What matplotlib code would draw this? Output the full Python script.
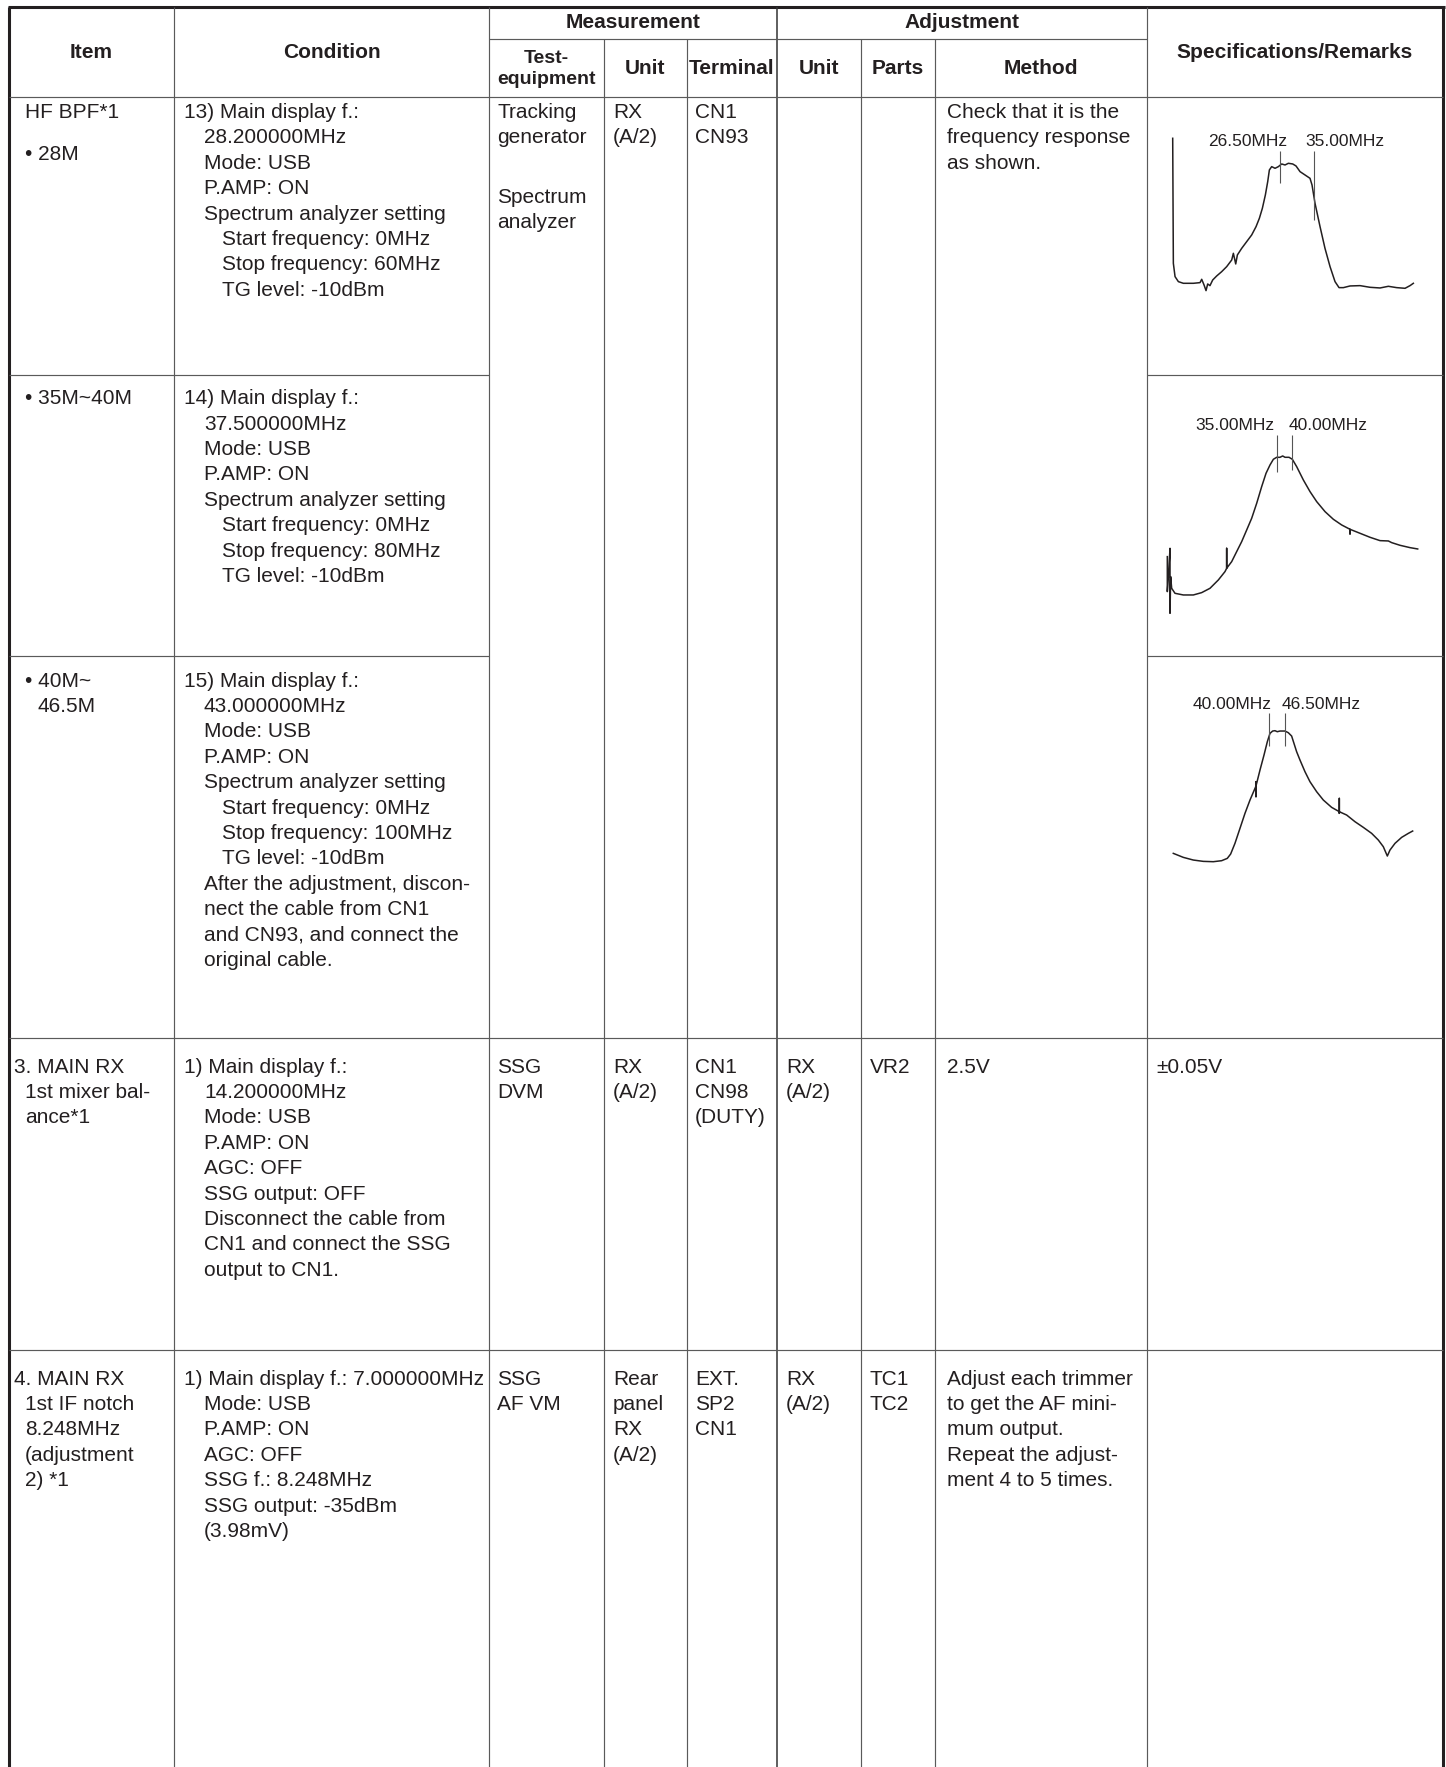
import matplotlib
matplotlib.use("Agg")
import matplotlib.pyplot as plt

plt.rcParams['font.family'] = ['Liberation Sans', 'DejaVu Sans']

W, H, DPI = 1446, 1767, 100
INK = '#231f20'
GRID = '#5a5a5a'

# ---------------------------------------------------------------- table text
group_headers = ["Measurement", "Adjustment"]
column_headers = ["Item", "Condition", "Test-\nequipment", "Unit", "Terminal",
                  "Unit", "Parts", "Method", "Specifications/Remarks"]

# rows: 13) 28M, 14) 35M~40M, 15) 40M~46.5M, 3. MAIN RX, 4. MAIN RX
item_col = [
    ["  HF BPF*1", "", "  \u2022 28M"],
    ["  \u2022 35M~40M"],
    ["  \u2022 40M~", "    46.5M"],
    ["3. MAIN RX", "  1st mixer bal-", "  ance*1"],
    ["4. MAIN RX", "  1st IF notch", "  8.248MHz", "  (adjustment", "  2) *1"],
]
condition_col = [
    ["13) Main display f.:", "  28.200000MHz", "  Mode: USB", "  P.AMP: ON",
     "  Spectrum analyzer setting", "    Start frequency: 0MHz",
     "    Stop frequency: 60MHz", "    TG level: -10dBm"],
    ["14) Main display f.:", "  37.500000MHz", "  Mode: USB", "  P.AMP: ON",
     "  Spectrum analyzer setting", "    Start frequency: 0MHz",
     "    Stop frequency: 80MHz", "    TG level: -10dBm"],
    ["15) Main display f.:", "  43.000000MHz", "  Mode: USB", "  P.AMP: ON",
     "  Spectrum analyzer setting", "    Start frequency: 0MHz",
     "    Stop frequency: 100MHz", "    TG level: -10dBm",
     "  After the adjustment, discon-", "  nect the cable from CN1",
     "  and CN93, and connect the", "  original cable."],
    ["1) Main display f.:", "  14.200000MHz", "  Mode: USB", "  P.AMP: ON",
     "  AGC: OFF", "  SSG output: OFF", "  Disconnect the cable from",
     "  CN1 and connect the SSG", "  output to CN1."],
    ["1) Main display f.: 7.000000MHz", "  Mode: USB", "  P.AMP: ON", "  AGC: OFF",
     "  SSG f.: 8.248MHz", "  SSG output: -35dBm", "  (3.98mV)"],
]
# columns shared by rows 13-15 (one block), row 3, row 4
test_equipment = [["Tracking", "generator", "", "Spectrum", "analyzer"],
                  ["SSG", "DVM"], ["SSG", "AF VM"]]
meas_unit = [["RX", "(A/2)"], ["RX", "(A/2)"], ["Rear", "panel", "RX", "(A/2)"]]
terminal = [["CN1", "CN93"], ["CN1", "CN98", "(DUTY)"], ["EXT.", "SP2", "CN1"]]
adj_unit = [[], ["RX", "(A/2)"], ["RX", "(A/2)"]]
parts = [[], ["VR2"], ["TC1", "TC2"]]
method = [["Check that it is the", "frequency response", "as shown."],
          ["2.5V"],
          ["Adjust each trimmer", "to get the AF mini-", "mum output.",
           "Repeat the adjust-", "ment 4 to 5 times."]]
spec_text = [[], ["\u00b10.05V"], []]

# ---------------------------------------------------------------- curves (MHz, dB)
c1_freq = [0.0, 0.16, 0.58, 1.4, 2.63, 5.1, 6.75, 7.16, 7.74, 8.23, 8.64, 9.2, 9.88,
           10.86, 12.1, 13.33, 14.57, 14.98, 15.56, 15.97, 17.04, 18.27, 19.5, 20.58,
           21.4, 22.14, 22.88, 23.46, 23.87, 24.44, 25.27, 26.09, 26.9, 27.74, 28.56,
           29.63, 30.45, 31.44, 32.67, 33.9, 34.4, 35.14, 36.38, 37.6, 38.85, 40.08,
           41.07, 42.14, 43.79, 46.26, 48.72, 51.2, 53.25, 55.3, 57.37, 58.6, 59.42]
c1_level = [15, -60, -68, -71, -72, -72, -71.6, -69.6, -73, -76.4, -72.4, -73.4, -70,
            -67.6, -65, -62, -58, -54, -60.4, -55, -51, -47, -43, -38,
            -33, -27, -19, -11, -4, -2, -3, -2, -0.4, -1, 0,
            -0.4, -1.6, -5, -7, -9, -13, -24, -38, -51, -62, -71,
            -74.6, -74.6, -73.6, -73.4, -74.4, -74.8, -73.8, -74.6, -75, -73.4, -72]
c1_markers = [26.5, 35.0]
c1_marker_top = [7.6, 7.6]
c1_marker_bottom = [-11.6, -34.0]
c1_labels = ["26.50MHz", "35.00MHz"]
c1_label_freq = [18.4, 42.6]

c2_freq = [0.1, 0.1, 0.5, 0.96, 0.96, 1.17, 1.49, 2.55, 5.21, 8.4, 11.06, 13.72, 16.38,
           18.5, 19.04, 19.04, 19.04, 20.64, 22.23, 23.83, 25.43, 27.02, 28.62, 30.21,
           31.6, 32.87, 33.94, 35.0, 36.06, 36.91, 37.66, 38.94, 40.0, 41.38, 43.51,
           45.64, 47.77, 50.43, 53.09, 55.74, 58.4, 58.4, 58.4, 61.6, 64.79, 67.98,
           70.64, 71.7, 74.36, 77.55, 80.0]
c2_level = [-59.6, -80.6, -70, -54.6, -93.6, -71.6, -78.6, -81.6, -82.6, -82.6, -81.2,
            -78.6, -73.6, -68.6, -66.6, -54.6, -66.6, -62.6, -56.6, -50.6, -43.6, -36.6,
            -27.6, -17.6, -9.6, -4.6, -1.2, 0, 0, 0.8, 0, 0, -1.2, -5.6, -13.6,
            -20.6, -26.6, -32.6, -37.2, -40.6, -43.2, -46, -43.2, -45.6, -48, -50,
            -50.2, -51.2, -52.8, -54.2, -55]
c2_markers = [35.0, 40.0]
c2_marker_top = [13.4, 13.4]
c2_marker_bottom = [-8.6, -7.6]
c2_labels = ["35.00MHz", "40.00MHz"]
c2_label_freq = [21.7, 51.5]

c3_freq = [1.14, 5.2, 9.26, 13.32, 17.39, 20.77, 23.07, 24.43, 26.18, 28.22, 30.25,
           32.29, 34.32, 34.72, 34.72, 34.72, 34.72, 36.35, 37.98, 39.33, 40.41, 41.49,
           42.43, 43.38, 44.46, 46.49, 47.85, 49.2, 50.15, 51.23, 52.59, 54.62, 56.65,
           59.36, 62.07, 65.45, 68.57, 68.57, 68.57, 68.57, 71.55, 74.93, 78.32, 81.7,
           84.41, 86.44, 88.07, 89.15, 91.18, 93.89, 96.6, 98.36]
c3_level = [-73.6, -76, -77.6, -78.4, -78.6, -78, -76.6, -74, -67.6, -58.6, -49.6,
            -41.6, -34.6, -33.2, -30.6, -39.6, -33.2, -23.6, -14.6, -6.6, -1.6, -0.2,
            0, -0.6, -0.2, -0.2, -1.2, -3.2, -7.6, -12.6, -17.6, -24.6, -30.6,
            -36.6, -41.6, -46, -48.6, -40.6, -49.6, -48.6, -50.6, -54.6, -58, -61.6,
            -65.6, -69.6, -75.2, -71.6, -67.6, -64, -61.6, -60.2]
c3_markers = [40.0, 46.5]
c3_marker_top = [10.4, 10.4]
c3_marker_bottom = [-9.2, -9.0]
c3_labels = ["40.00MHz", "46.50MHz"]
c3_label_freq = [25.2, 61.4]

# ---------------------------------------------------------------- layout (pixels)
X_LEFT, X_RIGHT = 9, 1443
COLS = [9, 174, 489, 604, 687, 777, 861, 935, 1147, 1443]
Y_TOP, Y_GROUP, Y_HEAD = 7, 39, 97
ROW_LINES_PARTIAL = [375, 656]
ROW_LINES_FULL = [1038, 1350]
ROW_FIRST = [110.5, 396.7, 679, 1065, 1377]
LS = 25.4
FS = 15
BASE = 7.5

fig = plt.figure(figsize=(W / DPI, H / DPI), dpi=DPI)
ax = fig.add_axes([0, 0, 1, 1])
ax.set_xlim(0, W)
ax.set_ylim(H, 0)
ax.axis('off')


def hline(y, x0, x1, lw=0.85, color=GRID):
    ax.plot([x0, x1], [y, y], color=color, lw=lw, solid_capstyle='butt')


def vline(x, y0, y1, lw=0.85, color=GRID):
    ax.plot([x, x], [y0, y1], color=color, lw=lw, solid_capstyle='butt')


# grid
hline(Y_TOP, X_LEFT - 1.5, X_RIGHT + 1.5, lw=2.2, color=INK)
vline(X_LEFT, Y_TOP, H, lw=2.2, color=INK)
vline(X_RIGHT, Y_TOP, H, lw=2.2, color=INK)
for x in (COLS[1], COLS[2], COLS[8]):
    vline(x, Y_TOP, H)
vline(COLS[5], Y_TOP, H, lw=1.1, color='#333333')
for x in (COLS[3], COLS[4], COLS[6], COLS[7]):
    vline(x, Y_GROUP, H)
hline(Y_GROUP, COLS[2], COLS[8])
hline(Y_HEAD, X_LEFT, X_RIGHT)
for y in ROW_LINES_PARTIAL:
    hline(y, X_LEFT, COLS[2])
    hline(y, COLS[8], X_RIGHT)
for y in ROW_LINES_FULL:
    hline(y, X_LEFT, X_RIGHT)

# header text
hkw = dict(fontsize=FS, fontweight='bold', color=INK, ha='center', va='center')
ax.text((COLS[2] + COLS[5]) / 2, 23, group_headers[0], **hkw)
ax.text((COLS[5] + COLS[8]) / 2, 23, group_headers[1], **hkw)
ax.text((COLS[0] + COLS[1]) / 2, 53, column_headers[0], **hkw)
ax.text((COLS[1] + COLS[2]) / 2, 53, column_headers[1], **hkw)
te1, te2 = column_headers[2].split("\n")
ax.text((COLS[2] + COLS[3]) / 2, 58.5, te1, **{**hkw, 'fontsize': 14})
ax.text((COLS[2] + COLS[3]) / 2, 79, te2, **{**hkw, 'fontsize': 14})
for i in range(3, 8):
    ax.text((COLS[i] + COLS[i + 1]) / 2, 68.5, column_headers[i], **hkw)
ax.text((COLS[8] + COLS[9]) / 2, 53, column_headers[8], **hkw)


def cell(x_levels, y0, lines, gap=1.0):
    k = 0.0
    for line in lines:
        if line == "":
            k += gap
            continue
        stripped = line.lstrip(' ')
        lev = (len(line) - len(stripped)) // 2
        ax.text(x_levels[min(lev, len(x_levels) - 1)], y0 + k * LS + BASE, stripped,
                fontsize=FS, color=INK, ha='left', va='baseline')
        k += 1


ITEM_X = [14, 25, 38]
COND_X = [184, 204, 222]
for r in range(5):
    cell(ITEM_X, ROW_FIRST[r], item_col[r], gap=0.65)
    cell(COND_X, ROW_FIRST[r], condition_col[r])

block_rows = [0, 3, 4]
for b, r in enumerate(block_rows):
    y0 = ROW_FIRST[r]
    cell([COLS[2] + 8], y0, test_equipment[b], gap=1.35)
    cell([COLS[3] + 9], y0, meas_unit[b])
    cell([COLS[4] + 8], y0, terminal[b])
    cell([COLS[5] + 9], y0, adj_unit[b])
    cell([COLS[6] + 9], y0, parts[b])
    cell([COLS[7] + 12], y0, method[b])
    cell([COLS[8] + 9], y0, spec_text[b])

# ---------------------------------------------------------------- response curves
PPDB = 5.0 / 3.0            # pixels per dB
DB_LO, DB_HI = -100, 25


def curve_axes(x0, x1, y0db, fmax):
    top_px = y0db - PPDB * DB_HI
    bot_px = y0db - PPDB * DB_LO
    a = fig.add_axes([x0 / W, 1 - bot_px / H, (x1 - x0) / W, (bot_px - top_px) / H])
    a.set_xlim(0, fmax)
    a.set_ylim(DB_LO, DB_HI)
    a.axis('off')
    a.patch.set_alpha(0)
    return a


curves = [
    (c1_freq, c1_level, c1_markers, c1_marker_top, c1_marker_bottom, c1_labels,
     c1_label_freq, (1172.7, 1415.7, 163.3, 60)),
    (c2_freq, c2_level, c2_markers, c2_marker_top, c2_marker_bottom, c2_labels,
     c2_label_freq, (1167.0, 1417.7, 457.3, 80)),
    (c3_freq, c3_level, c3_markers, c3_marker_top, c3_marker_bottom, c3_labels,
     c3_label_freq, (1170.5, 1416.7, 730.7, 100)),
]
for fr, lv, mk, mt, mb, lab, labf, geom in curves:
    ca = curve_axes(*geom)
    ca.plot(fr, lv, color=INK, lw=1.1, clip_on=False, solid_joinstyle='round')
    ca.vlines(mk, mb, mt, color='#555555', lw=0.8, clip_on=False)
    for t, f, top in zip(lab, labf, mt):
        ca.text(f, top + 5.5, t, fontsize=12.5, color=INK, ha='center', va='center')

fig.savefig("out.png", dpi=DPI)
